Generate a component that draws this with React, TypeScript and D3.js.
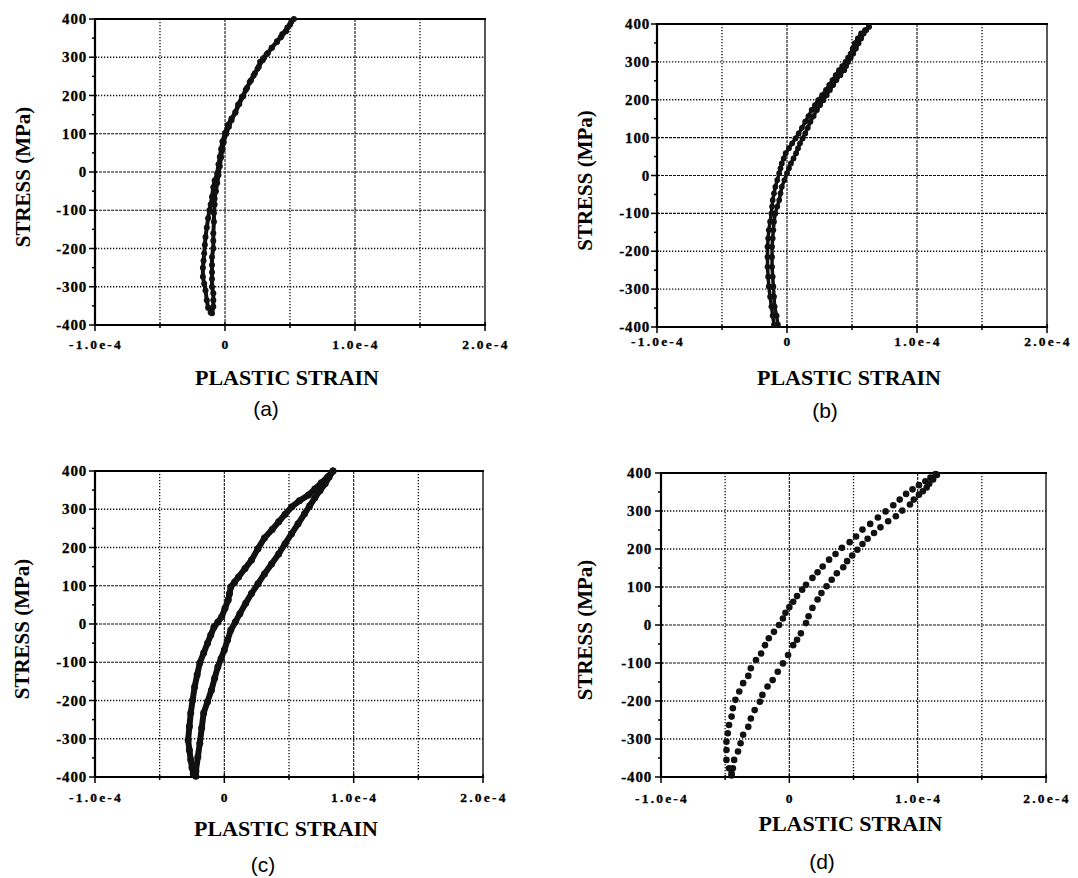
import React, { useRef, useEffect } from "react";
import * as d3 from "d3";

// strain is kept in units of 1e-4, stress in MPa
const STRAIN_UNIT = 1e-4;

const strainMajor = [-1, 0, 1, 2];
const strainLabels = ["-1.0e-4", "0", "1.0e-4", "2.0e-4"];
const strainGrid = [-0.5, 0, 0.5, 1, 1.5];
const strainMinor = [-0.5, 0.5, 1.5];
const stressMajor = [-400, -300, -200, -100, 0, 100, 200, 300, 400];
const stressMinor = [-350, -250, -150, -50, 50, 150, 250, 350];
const stressGrid = [-300, -200, -100, 0, 100, 200, 300];

// (a)
const aDown = [
  [0.53, 400], [0.5, 385], [0.47, 368], [0.43, 352], [0.4, 340], [0.36, 325], [0.33, 311],
  [0.3, 299], [0.27, 288], [0.25, 270], [0.22, 252], [0.19, 235], [0.16, 215], [0.13, 196],
  [0.1, 176], [0.08, 157], [0.05, 140], [0.02, 123], [0.0, 102], [-0.02, 80], [-0.03, 60],
  [-0.04, 40], [-0.05, 20], [-0.06, -3], [-0.08, -22], [-0.09, -40], [-0.1, -65], [-0.11, -85],
  [-0.12, -100], [-0.13, -121], [-0.14, -145], [-0.15, -170], [-0.155, -190], [-0.16, -213],
  [-0.165, -232], [-0.17, -250], [-0.17, -274], [-0.16, -292], [-0.15, -310], [-0.14, -335],
  [-0.13, -355], [-0.11, -367],
];
const aUp = [
  [-0.1, -369], [-0.09, -352], [-0.09, -335], [-0.09, -317], [-0.1, -300], [-0.1, -280],
  [-0.1, -262], [-0.1, -243], [-0.1, -222], [-0.09, -200], [-0.09, -180], [-0.09, -160],
  [-0.085, -130], [-0.085, -107], [-0.08, -85], [-0.08, -70], [-0.07, -50], [-0.06, -29],
  [-0.05, -8], [-0.04, 15], [-0.03, 38], [-0.02, 58], [-0.01, 78], [0.01, 100], [0.03, 118],
  [0.05, 135], [0.08, 155], [0.11, 178], [0.14, 198], [0.17, 220], [0.2, 240], [0.23, 258],
  [0.26, 275], [0.29, 292], [0.32, 308], [0.36, 325], [0.4, 342], [0.44, 360], [0.48, 378],
  [0.51, 393],
];

// (b)
const bDown = [
  [0.63, 393], [0.6, 384], [0.57, 375], [0.545, 362], [0.52, 349], [0.505, 335], [0.49, 322],
  [0.47, 311], [0.45, 300], [0.425, 289], [0.4, 278], [0.375, 265], [0.35, 252], [0.325, 239],
  [0.3, 226], [0.27, 212], [0.24, 199], [0.215, 186], [0.19, 173], [0.165, 157], [0.14, 142],
  [0.115, 126], [0.09, 111], [0.065, 98], [0.04, 85], [0.015, 72], [-0.01, 59], [-0.025, 45],
  [-0.04, 32], [-0.05, 19], [-0.06, 6], [-0.075, -12], [-0.09, -30], [-0.1, -47], [-0.11, -65],
  [-0.115, -82], [-0.12, -100], [-0.13, -122], [-0.14, -144], [-0.145, -166], [-0.15, -188],
  [-0.15, -215], [-0.15, -241], [-0.145, -267], [-0.14, -293], [-0.13, -320], [-0.12, -346],
  [-0.11, -370], [-0.1, -394],
];
const bUp = [
  [-0.07, -394], [-0.08, -370], [-0.095, -346], [-0.1, -320], [-0.105, -293], [-0.11, -267],
  [-0.115, -241], [-0.115, -215], [-0.115, -188], [-0.11, -166], [-0.105, -144], [-0.1, -122],
  [-0.09, -100], [-0.075, -82], [-0.06, -65], [-0.05, -47], [-0.04, -30], [-0.02, -12], [0, 6],
  [0.015, 19], [0.03, 32], [0.05, 45], [0.07, 59], [0.085, 72], [0.1, 85], [0.12, 98],
  [0.14, 111], [0.16, 126], [0.18, 142], [0.205, 157], [0.23, 173], [0.255, 186], [0.28, 199],
  [0.305, 212], [0.33, 226], [0.355, 239], [0.38, 252], [0.41, 265], [0.44, 278], [0.455, 289],
  [0.47, 300], [0.49, 311], [0.51, 322], [0.53, 335], [0.55, 349], [0.57, 362], [0.59, 375],
  [0.61, 384], [0.63, 393],
];

// (c)
const cDown = [
  [0.84, 400], [0.8, 385], [0.75, 369], [0.7, 353], [0.65, 337], [0.58, 322], [0.52, 306],
  [0.47, 287], [0.42, 267], [0.37, 247], [0.31, 225], [0.26, 197], [0.21, 167], [0.16, 145],
  [0.11, 123], [0.08, 110], [0.05, 97], [0.04, 80], [0.03, 63], [0.005, 41], [-0.02, 19],
  [-0.05, 5], [-0.08, -8], [-0.105, -29], [-0.13, -50], [-0.16, -76], [-0.19, -102],
  [-0.21, -133], [-0.23, -165], [-0.245, -199], [-0.26, -233], [-0.27, -268], [-0.28, -303],
  [-0.27, -330], [-0.26, -355], [-0.25, -375], [-0.24, -392],
];
const cUp = [
  [-0.22, -398], [-0.22, -384], [-0.205, -348], [-0.19, -312], [-0.175, -272], [-0.16, -233],
  [-0.13, -203], [-0.1, -173], [-0.075, -142], [-0.05, -112], [-0.025, -90], [0, -68],
  [0.025, -42], [0.05, -16], [0.085, 5], [0.12, 27], [0.165, 54], [0.21, 80], [0.26, 105],
  [0.31, 131], [0.365, 157], [0.42, 183], [0.47, 210], [0.52, 236], [0.57, 262], [0.62, 288],
  [0.66, 309], [0.7, 330], [0.74, 349], [0.78, 367], [0.81, 384], [0.84, 400],
];

// (d)
const dDown = [
  [1.14, 397], [1.1, 388], [1.06, 378], [1.01, 368], [0.96, 357], [0.91, 345], [0.86, 330],
  [0.81, 315], [0.75, 299], [0.69, 283], [0.63, 266], [0.57, 251], [0.52, 233], [0.47, 218],
  [0.41, 203], [0.36, 187], [0.31, 172], [0.26, 154], [0.22, 139], [0.18, 124], [0.13, 106],
  [0.1, 93], [0.06, 76], [0.03, 61], [0, 47], [-0.03, 32], [-0.05, 17], [-0.08, 0],
  [-0.12, -18], [-0.16, -35], [-0.19, -53], [-0.22, -75], [-0.26, -92], [-0.3, -114],
  [-0.32, -134], [-0.36, -153], [-0.39, -175], [-0.42, -197], [-0.44, -219], [-0.45, -241],
  [-0.47, -263], [-0.48, -285], [-0.49, -307], [-0.49, -329], [-0.49, -355], [-0.47, -377],
  [-0.45, -390],
];
const dUp = [
  [-0.45, -396], [-0.44, -377], [-0.43, -355], [-0.4, -333], [-0.38, -311], [-0.36, -289],
  [-0.32, -268], [-0.3, -246], [-0.27, -224], [-0.23, -202], [-0.21, -184], [-0.17, -162],
  [-0.13, -145], [-0.09, -123], [-0.05, -101], [-0.01, -79], [0.03, -53], [0.06, -39],
  [0.09, -22], [0.13, 5], [0.15, 23], [0.18, 45], [0.22, 67], [0.25, 84], [0.29, 102],
  [0.33, 119], [0.37, 136], [0.42, 152], [0.45, 168], [0.49, 183], [0.53, 198], [0.57, 213],
  [0.61, 227], [0.66, 242], [0.71, 257], [0.77, 273], [0.83, 286], [0.88, 301], [0.94, 317],
  [0.97, 330], [1.01, 343], [1.04, 352], [1.07, 362], [1.09, 372], [1.12, 383], [1.15, 395],
];

const SERIF = "'Liberation Serif', 'Times New Roman', serif";
const SANS = "'Liberation Sans', Arial, sans-serif";

const panels = [
  {
    id: "a", caption: "(a)", branches: [aDown, aUp], r: 3, line: 4,
    left: 95, top: 19, width: 390, height: 306,
    tickY: 344, xTitleY: 377, captionX: 266, captionY: 409, yTitleX: 23, yLabelX: 87,
  },
  {
    id: "b", caption: "(b)", branches: [bDown, bUp], r: 2.9, line: 3.5,
    left: 657, top: 24, width: 390, height: 303,
    tickY: 341, xTitleY: 377, captionX: 825, captionY: 411, yTitleX: 585, yLabelX: 650,
  },
  {
    id: "c", caption: "(c)", branches: [cDown, cUp], r: 3.5, line: 6,
    left: 95, top: 471, width: 388, height: 306,
    tickY: 797, xTitleY: 828, captionX: 263, captionY: 865, yTitleX: 22, yLabelX: 87,
  },
  {
    id: "d", caption: "(d)", branches: [dDown, dUp], r: 3.3, line: 0,
    left: 661, top: 473, width: 385, height: 304,
    tickY: 798, xTitleY: 823, captionX: 822, captionY: 862, yTitleX: 585, yLabelX: 652,
  },
];

const Panel = ({ p }) => {
  const gRef = useRef(null);

  useEffect(() => {
    const g = d3.select(gRef.current);
    g.selectAll("*").remove();

    const { left, top, width, height } = p;
    const bottom = top + height;
    const right = left + width;

    const x = d3
      .scaleLinear()
      .domain([-1 * STRAIN_UNIT, 2 * STRAIN_UNIT])
      .range([left, right]);
    const y = d3.scaleLinear().domain([-400, 400]).range([bottom, top]);
    const sx = (d) => x(d * STRAIN_UNIT);

    // grid
    const strong = (v) => v === 0 || v === 1;
    g.append("g")
      .selectAll("line")
      .data(strainGrid)
      .join("line")
      .attr("x1", sx)
      .attr("x2", sx)
      .attr("y1", top)
      .attr("y2", bottom)
      .attr("stroke", "#111")
      .attr("stroke-width", (d) => (strong(d) ? 1.1 : 1.3))
      .attr("stroke-dasharray", (d) => (strong(d) ? "3,1" : "1.3,1.7"));

    g.append("g")
      .selectAll("line")
      .data(stressGrid)
      .join("line")
      .attr("x1", left)
      .attr("x2", right)
      .attr("y1", (d) => y(d))
      .attr("y2", (d) => y(d))
      .attr("stroke", "#111")
      .attr("stroke-width", (d) => (Math.abs(d) <= 100 ? 1.1 : 1.3))
      .attr("stroke-dasharray", (d) => (Math.abs(d) <= 100 ? "3,1" : "1.3,1.7"));

    // frame
    const frame = g.append("g").attr("stroke", "#000").attr("stroke-linecap", "square");
    frame.append("line").attr("x1", left).attr("x2", right).attr("y1", top).attr("y2", top).attr("stroke-width", 2);
    frame.append("line").attr("x1", left).attr("x2", right).attr("y1", bottom).attr("y2", bottom).attr("stroke-width", 2.2);
    frame.append("line").attr("x1", left).attr("x2", left).attr("y1", top).attr("y2", bottom).attr("stroke-width", 2.2);
    frame.append("line").attr("x1", right).attr("x2", right).attr("y1", top).attr("y2", bottom).attr("stroke-width", 1.3);

    // ticks
    const ticks = g.append("g").attr("stroke", "#000").attr("stroke-width", 1.5);
    ticks.selectAll(".xmaj").data(strainMajor).join("line").attr("class", "xmaj")
      .attr("x1", sx).attr("x2", sx).attr("y1", bottom - 3).attr("y2", bottom + 6);
    ticks.selectAll(".xmin").data(strainMinor).join("line").attr("class", "xmin")
      .attr("x1", sx).attr("x2", sx).attr("y1", bottom - 2).attr("y2", bottom + 3);
    ticks.selectAll(".ymaj").data(stressMajor).join("line").attr("class", "ymaj")
      .attr("x1", left - 6).attr("x2", left + 2).attr("y1", (d) => y(d)).attr("y2", (d) => y(d));
    ticks.selectAll(".ymin").data(stressMinor).join("line").attr("class", "ymin")
      .attr("x1", left - 3).attr("x2", left + 1).attr("y1", (d) => y(d)).attr("y2", (d) => y(d));

    // tick labels
    g.append("g")
      .selectAll("text")
      .data(stressMajor)
      .join("text")
      .attr("x", p.yLabelX)
      .attr("y", (d) => y(d) + 5)
      .attr("text-anchor", "end")
      .style("font-family", SERIF)
      .style("font-weight", 700)
      .style("font-size", "15px")
      .style("letter-spacing", "0.8px")
      .attr("stroke", "#000")
      .attr("stroke-width", 0.3)
      .text((d) => d);

    g.append("g")
      .selectAll("text")
      .data(strainMajor)
      .join("text")
      .attr("x", (d) => sx(d) + 1)
      .attr("y", p.tickY + 5)
      .attr("text-anchor", "middle")
      .style("font-family", SERIF)
      .style("font-weight", 700)
      .style("font-size", "13.5px")
      .style("letter-spacing", "2.2px")
      .attr("stroke", "#000")
      .attr("stroke-width", 0.3)
      .text((d, i) => strainLabels[i]);

    // titles
    g.append("text")
      .attr("x", (left + right) / 2 - 3)
      .attr("y", p.xTitleY + 7.5)
      .attr("text-anchor", "middle")
      .style("font-family", SERIF)
      .style("font-weight", 700)
      .style("font-size", "22px")
      .text("PLASTIC STRAIN");

    g.append("text")
      .attr("transform", `translate(${p.yTitleX + 7},${(top + bottom) / 2 + 5}) rotate(-90)`)
      .attr("text-anchor", "middle")
      .style("font-family", SERIF)
      .style("font-weight", 700)
      .style("font-size", "21px")
      .text("STRESS (MPa)");

    g.append("text")
      .attr("x", p.captionX)
      .attr("y", p.captionY + 7)
      .attr("text-anchor", "middle")
      .style("font-family", SANS)
      .style("font-size", "21px")
      .text(p.caption);

    // curve
    const line = d3
      .line()
      .x((d) => sx(d[0]))
      .y((d) => y(d[1]));

    const curve = g.append("g");
    if (p.line > 0) {
      p.branches.forEach((b) => {
        curve
          .append("path")
          .attr("d", line(b))
          .attr("fill", "none")
          .attr("stroke", "#111")
          .attr("stroke-width", p.line)
          .attr("stroke-linejoin", "round")
          .attr("stroke-linecap", "round");
      });
    }
    p.branches.forEach((b) => {
      curve
        .append("g")
        .selectAll("circle")
        .data(b)
        .join("circle")
        .attr("cx", (d) => sx(d[0]))
        .attr("cy", (d) => y(d[1]))
        .attr("r", p.r)
        .attr("fill", "#111");
    });
  }, [p]);

  return <g ref={gRef} />;
};

export default function App() {
  return (
    <svg
      width={1078}
      height={878}
      style={{ position: "absolute", left: 0, top: 0, background: "#fff" }}
    >
      <rect width={1078} height={878} fill="#fff" />
      {panels.map((p) => (
        <Panel key={p.id} p={p} />
      ))}
    </svg>
  );
}
